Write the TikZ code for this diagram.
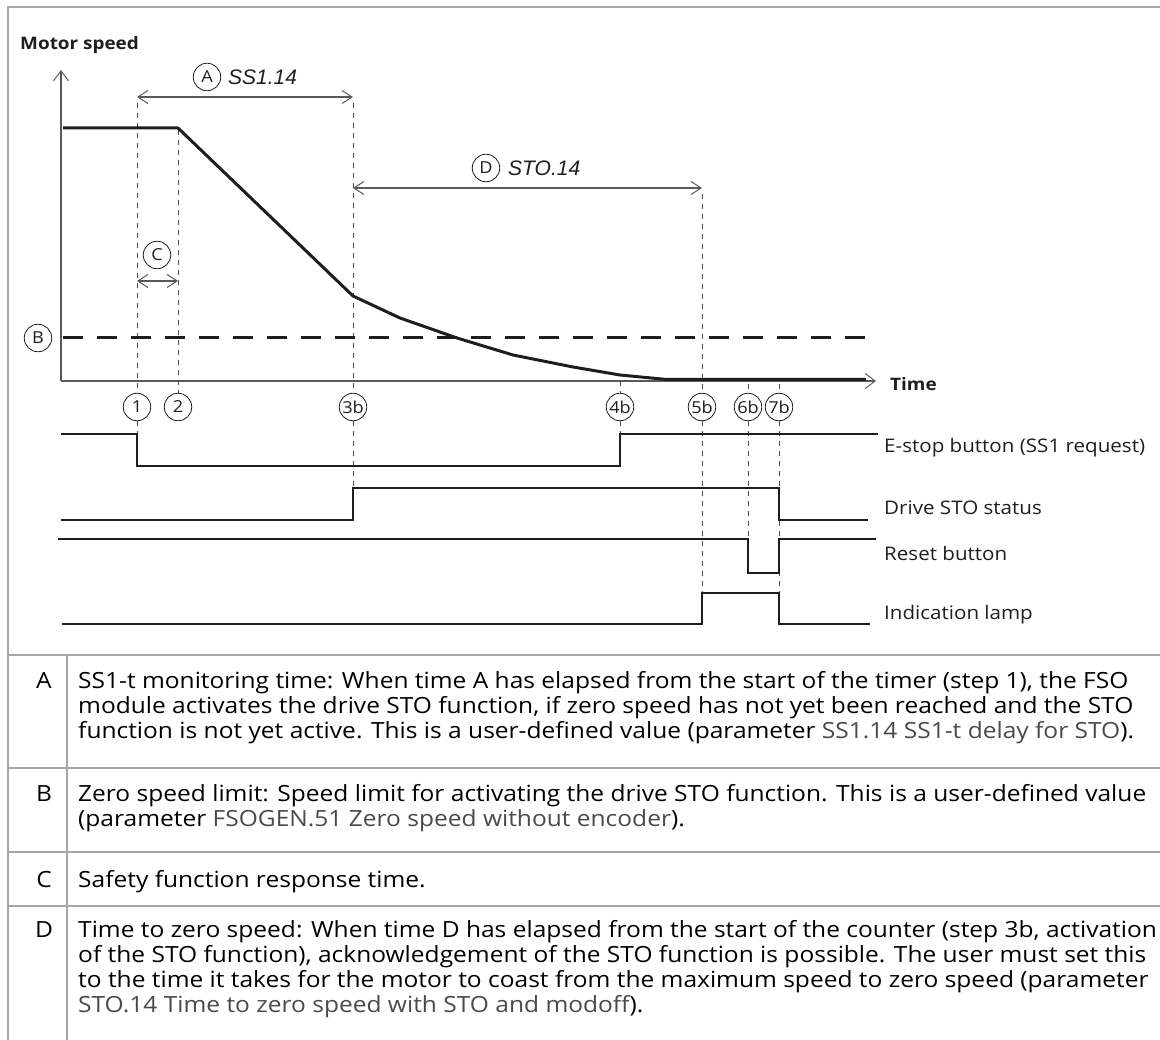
\documentclass[tikz,border=0pt]{standalone}
\usepackage{fontspec}
\setmainfont{Open Sans}[FakeStretch=1.1]
\newfontfamily\arialfont{Liberation Sans}
\usetikzlibrary{arrows.meta}
\definecolor{inkc}{HTML}{1E1E1E}
\definecolor{axisc}{HTML}{5A5A5A}
\definecolor{guidec}{HTML}{4A4A4A}
\definecolor{framec}{HTML}{A6A6A6}
\definecolor{paramc}{HTML}{4A4A4A}
\newcommand{\prm}[1]{\textcolor{paramc}{#1}}
\begin{document}
\begin{tikzpicture}[x=1pt,y=-1pt,
  markc/.style={circle,draw=inkc,line width=0.8pt,minimum size=27.5pt,inner sep=0pt,
    font=\fontsize{16.5}{16.5}\selectfont,text=inkc},
  guide/.style={draw=guidec,line width=0.9pt,dash pattern=on 5pt off 5pt},
  sig/.style={draw=inkc,line width=1.1pt},
  speedln/.style={draw=inkc,line width=3pt,line join=round},
  axisln/.style={draw=axisc,line width=1.2pt},
  barb/.style={-{Straight Barb[length=10pt,width=15pt,line width=1pt]}},
  dimarr/.style={draw=axisc,line width=1.1pt,{Straight Barb[length=10pt,width=13pt,line width=1pt]}-{Straight Barb[length=10pt,width=13pt,line width=1pt]}},
  zeroln/.style={draw=inkc,line width=3pt,dash pattern=on 20pt off 14pt},
  framel/.style={draw=framec,line width=2pt},
  lbl/.style={anchor=west,font=\fontsize{18.7}{18.7}\selectfont,text=inkc,inner sep=0pt},
  boldlbl/.style={anchor=west,font=\fontsize{17.2}{17.2}\selectfont\bfseries,text=inkc,inner sep=0pt},
  itl/.style={anchor=west,font=\arialfont\itshape\fontsize{21}{21}\selectfont,text=inkc,inner sep=0pt},
  tline/.style={anchor=base west,font=\fontsize{22.3}{22.3}\selectfont,text=black,inner sep=0pt},
  tkey/.style={anchor=base,font=\fontsize{22.3}{22.3}\selectfont,text=black,inner sep=0pt}
]
\useasboundingbox (0,0) rectangle (1160,1040);

% ---------- frame and table ----------
\draw[framel] (8,1040) -- (8,7) -- (1160,7);
\draw[framel] (8,655) -- (1160,655);
\draw[framel] (8,768) -- (1160,768);
\draw[framel] (8,852) -- (1160,852);
\draw[framel] (8,906) -- (1160,906);
\draw[framel] (67,655) -- (67,1040);

% ---------- axes ----------
\coordinate (O) at (61,381);
\coordinate (ytip) at (61,70);
\coordinate (xtip) at (876,381);
\node[boldlbl] (ylab) at (20,45) {Motor speed};
\node[boldlbl] (xlab) at (890,384) {Time};
\draw[axisln,barb] (O) -- (ytip);
\draw[axisln,barb] (O) -- (xtip);

% ---------- markers ----------
\node[markc] (m1) at (137,407) {1};
\node[markc] (m2) at (178,407) {2};
\node[markc] (m3b) at (353,407) {3b};
\node[markc] (m4b) at (620,407) {4b};
\node[markc] (m5b) at (702,407) {5b};
\node[markc] (m6b) at (748,407) {6b};
\node[markc] (m7b) at (779,407) {7b};

% ---------- guides ----------
\coordinate (g1t) at (137,103);
\coordinate (g1b) at (137,434);
\coordinate (g2t) at (178,130);
\coordinate (g3t) at (353,103);
\coordinate (g3b) at (353,488);
\coordinate (g4t) at (620,381);
\coordinate (g4b) at (620,434);
\coordinate (g5t) at (702,194);
\coordinate (g5b) at (702,593);
\coordinate (g6t) at (748,384);
\coordinate (g6b) at (748,539);
\coordinate (g7t) at (779,384);
\coordinate (g7b) at (779,624);
\draw[guide] (g1t) -- (m1.north);
\draw[guide] (m1.south) -- (g1b);
\draw[guide] (g2t) -- (m2.north);
\draw[guide] (g3t) -- (m3b.north);
\draw[guide] (m3b.south) -- (g3b);
\draw[guide] (g4t) -- (m4b.north);
\draw[guide] (m4b.south) -- (g4b);
\draw[guide] (g5t) -- (m5b.north);
\draw[guide] (m5b.south) -- (g5b);
\draw[guide] (g6t) -- (m6b.north);
\draw[guide] (m6b.south) -- (g6b);
\draw[guide] (g7t) -- (m7b.north);
\draw[guide] (m7b.south) -- (g7b);

% ---------- zero speed limit ----------
\node[markc] (mB) at (38,338) {B};
\coordinate (zl) at (63,338);
\coordinate (zr) at (870,338);
\draw[zeroln] (zl) -- (zr);

% ---------- speed curve ----------
\draw[speedln] (63,128) -- (178,128) -- (353,296) -- (400,318) -- (457,338) -- (513,355)
  -- (573,367) -- (620,375) -- (667,379.5) -- (866,379.5);

% ---------- dimension arrows ----------
\coordinate (aL) at (137,97);
\coordinate (aR) at (353,97);
\draw[dimarr] (aL) -- (aR);
\node[markc] (mA) at (207,77) {A};
\node[itl] (tA) at (228,77) {SS1.14};

\coordinate (dL) at (353,188);
\coordinate (dR) at (702,188);
\draw[dimarr] (dL) -- (dR);
\node[markc] (mD) at (486,168) {D};
\node[itl] (tD) at (508,168) {STO.14};

\coordinate (cL) at (137,281);
\coordinate (cR) at (178,281);
\draw[dimarr] (cL) -- (cR);
\node[markc] (mC) at (157,255) {C};

% ---------- signals ----------
\draw[sig] (61,434) -- (137,434) -- (137,466) -- (620,466) -- (620,434) -- (878,434);
\draw[sig] (61,520) -- (353,520) -- (353,488) -- (779,488) -- (779,520) -- (868,520);
\draw[sig] (58,539) -- (748,539) -- (748,573) -- (779,573) -- (779,539) -- (876,539);
\draw[sig] (62,624) -- (702,624) -- (702,593) -- (779,593) -- (779,624) -- (870,624);
\node[lbl] (l1) at (884,448) {E-stop button (SS1 request)};
\node[lbl] (l2) at (884,508) {Drive STO status};
\node[lbl] (l3) at (884,553) {Reset button};
\node[lbl] (l4) at (884,615) {Indication lamp};

% ---------- table text ----------
\node[tkey] (kA) at (44,688) {A};
\node[tline] (a1) at (78,688) {SS1-t monitoring time: When time A has elapsed from the start of the timer (step 1), the FSO};
\node[tline] (a2) at (78,713) {module activates the drive STO function, if zero speed has not yet been reached and the STO};
\node[tline] (a3) at (78,738) {function is not yet active. This is a user-defined value (parameter \prm{SS1.14 SS1-t delay for STO}).};
\node[tkey] (kB) at (44,801) {B};
\node[tline] (b1) at (78,801) {Zero speed limit: Speed limit for activating the drive STO function. This is a user-defined value};
\node[tline] (b2) at (78,826) {(parameter \prm{FSOGEN.51 Zero speed without encoder}).};
\node[tkey] (kC) at (44,887) {C};
\node[tline] (c1) at (78,887) {Safety function response time.};
\node[tkey] (kD) at (44,937) {D};
\node[tline] (d1) at (78,937) {Time to zero speed: When time D has elapsed from the start of the counter (step 3b, activation};
\node[tline] (d2) at (78,962) {of the STO function), acknowledgement of the STO function is possible. The user must set this};
\node[tline] (d3) at (78,987) {to the time it takes for the motor to coast from the maximum speed to zero speed (parameter};
\node[tline] (d4) at (78,1012) {\prm{STO.14 Time to zero speed with STO and modoff}).};
\end{tikzpicture}
\end{document}
